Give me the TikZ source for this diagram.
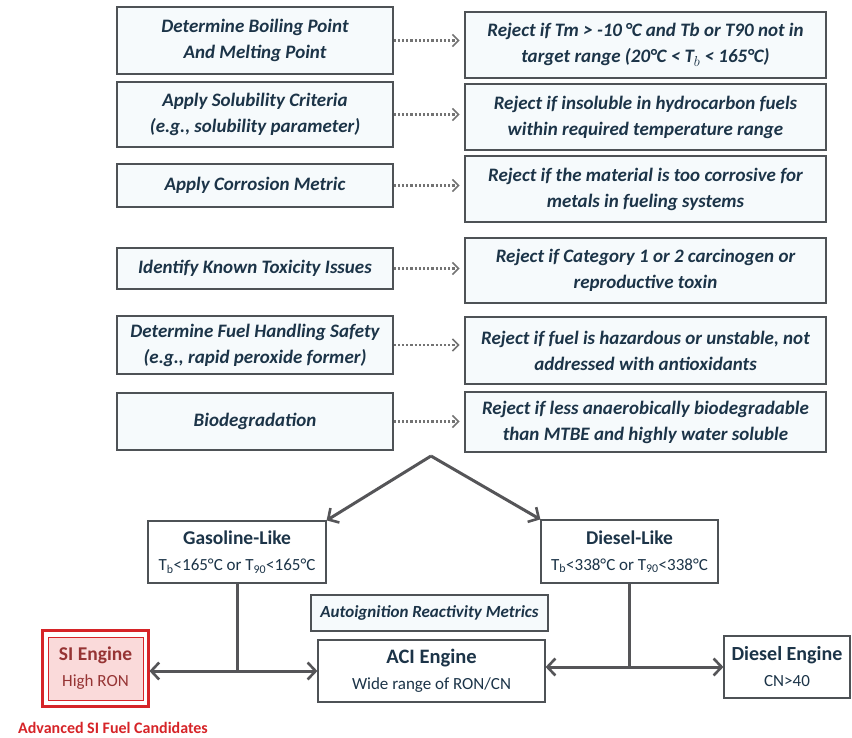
\documentclass[tikz,border=0pt]{standalone}
\usepackage{fontspec}
\setmainfont{Carlito}
\usetikzlibrary{arrows.meta,positioning}
\definecolor{inkblue}{RGB}{28,52,72}
\definecolor{framegray}{RGB}{78,82,86}
\definecolor{linkgray}{RGB}{85,85,88}
\definecolor{boxtint}{RGB}{246,250,252}
\definecolor{sired}{RGB}{214,36,40}
\definecolor{sipink}{RGB}{250,218,218}
\definecolor{sitext}{RGB}{150,52,52}

\begin{document}
\begin{tikzpicture}[
        x=1pt, y=-1pt,
        stepbox/.style= {
            draw=framegray, line width=1.2pt, fill=boxtint,
            text=inkblue, align=center, inner sep=0pt,
            font=\bfseries\itshape\fontsize{19}{26}\selectfont
        },
        checkbox/.style= {
            stepbox, minimum width=276pt
        },
        rejectbox/.style= {
            stepbox, minimum width=361pt
        },
        fuelbox/.style= {
            draw=framegray, line width=1.2pt, fill=white,
            text=inkblue, align=center, inner sep=0pt,
            font=\fontsize{17}{26}\selectfont
        },
        reject/.style= {
            draw=gray!90!black, line width=2.2pt, dotted,
            -{Straight Barb[length=6pt,width=12pt,line width=1.6pt]}
        },
        link/.style= {
            draw=linkgray, line width=3pt
        },
        linkhead/.style= {
            link, -{Straight Barb[length=8pt,width=17pt,line width=2.6pt]}
        },
        linkboth/.style= {
            link, {Straight Barb[length=8pt,width=17pt,line width=2.6pt]}-{Straight Barb[length=8pt,width=17pt,line width=2.6pt]}
        },
        ]
        \useasboundingbox (0,0) rectangle (852,737);

        \node[checkbox, minimum height=67pt] (boil) at (255,40.5)
            {Determine Boiling Point\\And Melting Point};
        \node[checkbox, minimum height=65pt] (solub) at (255,114.5)
            {Apply Solubility Criteria\\(e.g., solubility parameter)};
        \node[checkbox, minimum height=43pt] (corr) at (255,185.5)
            {Apply Corrosion Metric};
        \node[checkbox, minimum height=41pt] (toxic) at (255,268.5)
            {Identify Known Toxicity Issues};
        \node[checkbox, minimum height=58pt] (safety) at (255,345)
            {Determine Fuel Handling Safety\\(e.g., rapid peroxide former)};
        \node[checkbox, minimum height=57pt] (biodeg) at (255,421.5)
            {Biodegradation};

        \node[rejectbox, minimum height=66pt] (rboil) at (645.5,45)
            {Reject if Tm > -10\,\textdegree C and Tb or T90 not in\\target range (20\textdegree C < T$_b$ < 165\textdegree C)};
        \node[rejectbox, minimum height=66pt] (rsolub) at (645.5,117)
            {Reject if insoluble in hydrocarbon fuels\\within required temperature range};
        \node[rejectbox, minimum height=66pt] (rcorr) at (645.5,189)
            {Reject if the material is too corrosive for\\metals in fueling systems};
        \node[rejectbox, minimum height=65pt] (rtoxic) at (645.5,270.5)
            {Reject if Category 1 or 2 carcinogen or\\reproductive toxin};
        \node[rejectbox, minimum height=67pt] (rsafety) at (645.5,350.5)
            {Reject if fuel is hazardous or unstable, not\\addressed with antioxidants};
        \node[rejectbox, minimum height=60pt] (rbiodeg) at (645.5,422)
            {Reject if less anaerobically biodegradable\\than MTBE and highly water soluble};

        \draw[reject] (boil.east) -- +(66,0);
        \draw[reject] (solub.east) -- +(66,0);
        \draw[reject] (corr.east) -- +(66,0);
        \draw[reject] (toxic.east) -- +(66,0);
        \draw[reject] (safety.east) -- +(66,0);
        \draw[reject] (biodeg.east) -- +(66,0);

        \coordinate (apex) at (431,456);

        \node[fuelbox, minimum width=178pt, minimum height=62pt] (gas) at (237,552)
            {{\bfseries\fontsize{19.5}{26}\selectfont Gasoline-Like}\\
            T$_\mathrm{b}$<165\textdegree C or T$_\mathrm{90}$<165\textdegree C};
        \node[fuelbox, minimum width=177pt, minimum height=63pt] (diesel) at (629.5,551.5)
            {{\bfseries\fontsize{19.5}{26}\selectfont Diesel-Like}\\
            T$_\mathrm{b}$<338\textdegree C or T$_\mathrm{90}$<338\textdegree C};
        \node[fuelbox, fill=boxtint, minimum width=237pt, minimum height=36pt,
            font=\bfseries\itshape\fontsize{17}{20}\selectfont] (metric) at (429.5,613)
            {Autoignition Reactivity Metrics};
        \node[fuelbox, minimum width=227pt, minimum height=62pt] (aci) at (431.5,671)
            {{\bfseries\fontsize{20.5}{26}\selectfont ACI Engine}\\
            Wide range of RON/CN};
        \node[fuelbox, minimum width=126pt, minimum height=62pt] (dengine) at (787,667)
            {{\bfseries\fontsize{20}{26}\selectfont Diesel Engine}\\
            CN>40};
        \node[fuelbox, draw=sired, line width=0.8pt, fill=sipink, text=sitext,
            minimum width=95pt, minimum height=63pt] (si) at (95.5,668.5)
            {{\bfseries\fontsize{19.5}{26}\selectfont SI Engine}\\
            High RON};
        \draw[sired, line width=2.6pt] ([shift={(-5,-6)}]si.north west) rectangle ([shift={(5,6)}]si.south east);
        \coordinate (siedge) at ([xshift=6pt]si.east);
        \node[text=sired, font=\bfseries\fontsize{16}{19}\selectfont, inner sep=0pt, anchor=base] (advanced) at (113,733)
            {Advanced SI Fuel Candidates};

        \draw[linkhead] (apex) -- (gas.north east);
        \draw[linkhead] (apex) -- (diesel.north west);
        \draw[link] (gas.south) -- (gas.south |- aci.west);
        \draw[linkboth] (siedge |- aci.west) -- (aci.west);
        \draw[link] (diesel.south) -- (diesel.south |- dengine.west);
        \draw[linkboth] (aci.east |- dengine.west) -- (dengine.west);
    \end{tikzpicture}
\end{document}
